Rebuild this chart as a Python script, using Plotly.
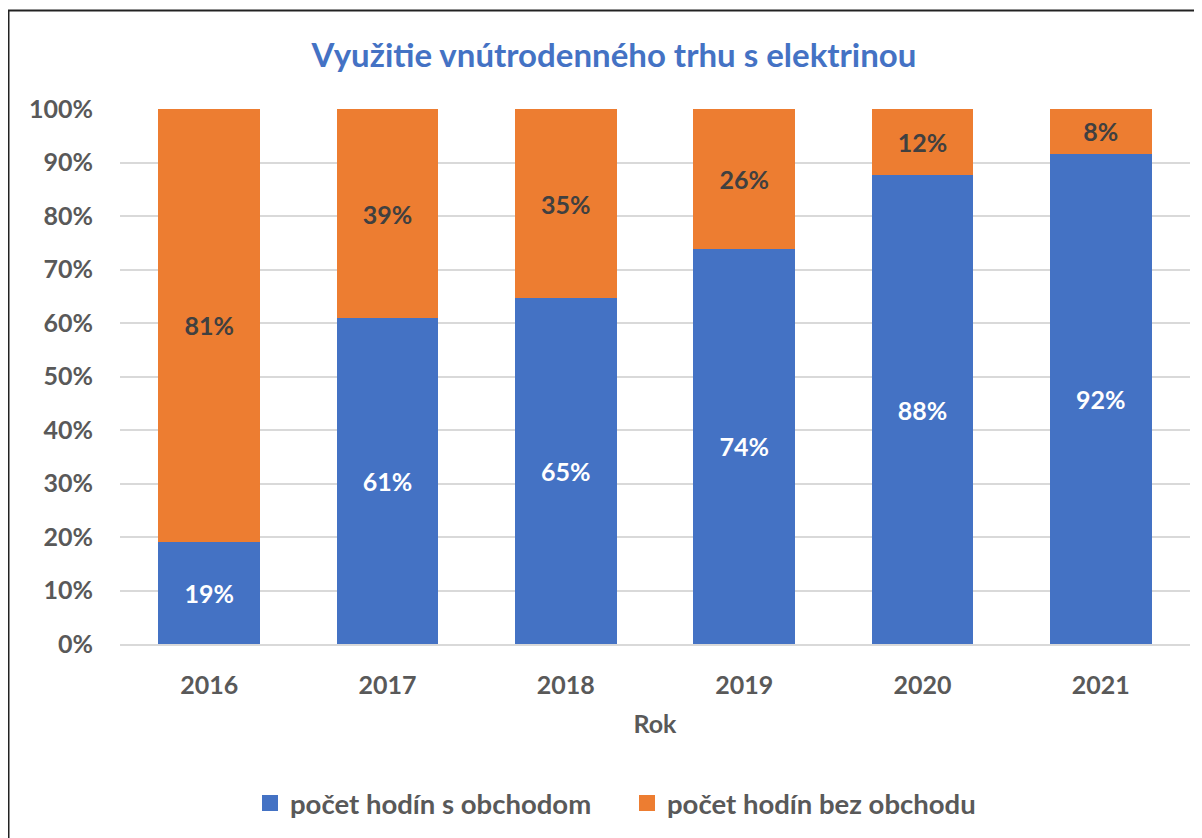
import plotly.graph_objects as go

years = ["2016", "2017", "2018", "2019", "2020", "2021"]
s_obchodom = [19.1, 60.9, 64.6, 73.9, 87.6, 91.6]
bez_obchodu = [80.9, 39.1, 35.4, 26.1, 12.4, 8.4]
y_ticks = [0, 10, 20, 30, 40, 50, 60, 70, 80, 90, 100]
y_tick_labels = [f"{v}%" for v in y_ticks]
names = ["počet hodín s obchodom", "počet hodín bez obchodu"]
colors = ["#4472C4", "#ED7D31"]

FONT = "Lato"
GRAY = "#595959"

fig = go.Figure()
for vals, name, col, tcol in [(s_obchodom, names[0], colors[0], "white"),
                              (bez_obchodu, names[1], colors[1], "#404040")]:
    fig.add_trace(go.Bar(
        x=years, y=vals, name=name, legendgroup=name, showlegend=False,
        marker=dict(color=col, line=dict(width=0)),
        texttemplate="%{y:.0f}%", textposition="inside",
        insidetextanchor="middle", textangle=0, constraintext="none",
        textfont=dict(family=FONT, size=25, color=tcol, weight="bold"),
        hovertemplate="%{x}: %{y:.0f}%<extra>" + name + "</extra>",
    ))
# legend entries with larger square swatches
for name, col in zip(names, colors):
    fig.add_trace(go.Scatter(
        x=[None], y=[None], mode="markers", name=name, legendgroup=name,
        marker=dict(symbol="square", size=16, color=col),
        showlegend=True,
    ))

# page body has an 8px margin; all pixel positions below are in figure coords
W, H = 1194, 830
L, R, T, B = 112, 12, 101, 194
pw, ph = W - L - R, H - T - B

def px_x(x):
    return (x - L) / pw

def px_y(y):
    return (H - B - y) / ph

fig.update_layout(
    width=W, height=H,
    margin=dict(l=L, r=R, t=T, b=B, autoexpand=False),
    barmode="stack", bargap=0.43,
    plot_bgcolor="white", paper_bgcolor="white",
    font=dict(family=FONT, color=GRAY),
    uniformtext=dict(mode=False),
    title=dict(
        text="<b>Využitie vnútrodenného trhu s elektrinou</b>",
        font=dict(family=FONT, size=33, color="#4472C4"),
        x=606 / W, xanchor="center", y=1 - 47 / H, yanchor="middle",
    ),
    xaxis=dict(
        type="category", categoryorder="array", categoryarray=years,
        tickfont=dict(family=FONT, size=25, color=GRAY, weight="bold"),
        ticks="", showline=True, linecolor="#D9D9D9", linewidth=2,
        ticklabelstandoff=18,
        title=dict(text="<b>Rok</b>", font=dict(family=FONT, size=25, color=GRAY), standoff=17),
    ),
    yaxis=dict(
        range=[0, 100], tickvals=y_ticks, ticktext=y_tick_labels,
        tickfont=dict(family=FONT, size=25, color=GRAY, weight="bold"),
        showgrid=True, gridcolor="#D9D9D9", gridwidth=2,
        zeroline=False, showline=False, ticks="",
        ticklabelstandoff=26,
    ),
    legend=dict(
        orientation="h", x=px_x(242), xanchor="left",
        y=px_y(795), yanchor="middle",
        font=dict(family=FONT, size=27.5, color=GRAY, weight="bold"),
        traceorder="normal", itemwidth=30, entrywidth=332,
    ),
    showlegend=True,
    shapes=[dict(
        type="rect", xref="paper", yref="paper",
        x0=px_x(0.5), x1=px_x(1230), y0=px_y(860), y1=px_y(2.5),
        line=dict(color="#222222", width=2), fillcolor="rgba(0,0,0,0)",
        layer="above",
    )],
)

fig.write_html("out.html")
